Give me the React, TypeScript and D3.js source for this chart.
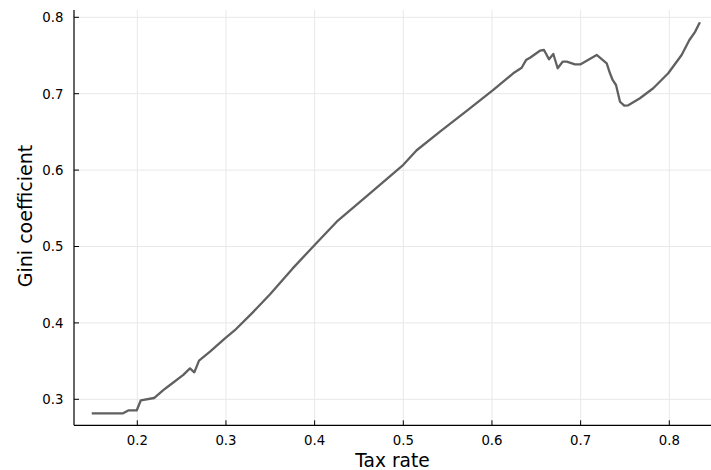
import React from "react";
import * as d3 from "d3";

const taxRate = [
  0.1486, 0.184, 0.1898, 0.1993, 0.204, 0.2189, 0.2293, 0.2369, 0.2519, 0.2594, 0.2643, 0.2696,
  0.282, 0.2989, 0.31, 0.33, 0.35, 0.375, 0.4, 0.4249, 0.4624, 0.5, 0.5151, 0.5414, 0.5715, 0.6015,
  0.624, 0.6335, 0.6384, 0.6429, 0.6541, 0.6587, 0.6643, 0.6692, 0.6741, 0.6797, 0.6843, 0.6936,
  0.7, 0.7181, 0.7294, 0.7331, 0.7361, 0.7399, 0.7444, 0.7492, 0.7537, 0.7669, 0.7819, 0.7988,
  0.8139, 0.8225, 0.8289, 0.8345,
];
const gini = [
  0.2817, 0.2817, 0.2854, 0.2854, 0.2987, 0.3017, 0.312, 0.3187, 0.332, 0.3405, 0.3353, 0.3506,
  0.3623, 0.3798, 0.3904, 0.4135, 0.4378, 0.471, 0.502, 0.5325, 0.5696, 0.607, 0.626, 0.6503, 0.6775, 0.7049,
  0.7267, 0.734, 0.744, 0.7471, 0.7563, 0.7572, 0.745, 0.752, 0.7333, 0.7419, 0.742, 0.7385,
  0.7385, 0.7507, 0.7398, 0.7267, 0.718, 0.7114, 0.6895, 0.6843, 0.6848, 0.694, 0.7071, 0.7267,
  0.7507, 0.77, 0.7806, 0.7935,
];
const xTicks = [0.2, 0.3, 0.4, 0.5, 0.6, 0.7, 0.8];
const yTicks = [0.3, 0.4, 0.5, 0.6, 0.7, 0.8];

const W = 711;
const H = 470;
const left = 74;
const right = 711;
const top = 10;
const bottom = 425.3;

export default function App() {
  const x = d3.scaleLinear().domain([0.2, 0.8]).range([137.3, 669.3]);
  const y = d3.scaleLinear().domain([0.3, 0.8]).range([399.3, 17.3]);
  const pts = taxRate.map((t, i) => [t, gini[i]] as [number, number]);
  const line = d3
    .line<[number, number]>()
    .x((d) => x(d[0]))
    .y((d) => y(d[1]));
  const font = "'DejaVu Sans', sans-serif";
  return (
    <svg
      width={W}
      height={H}
      style={{ position: "absolute", left: 0, top: 0, background: "#fff" }}
    >
      <rect x={0} y={0} width={W} height={H} fill="#fff" />
      {xTicks.map((t) => (
        <line key={"gx" + t} x1={x(t)} x2={x(t)} y1={top} y2={bottom} stroke="#e8e8e8" strokeWidth={1} />
      ))}
      {yTicks.map((t) => (
        <line key={"gy" + t} x1={left} x2={right} y1={y(t)} y2={y(t)} stroke="#e8e8e8" strokeWidth={1} />
      ))}
      <path d={line(pts) || ""} fill="none" stroke="#606060" strokeWidth={2.3} strokeLinejoin="round" />
      <line x1={left} x2={left} y1={top} y2={bottom} stroke="#000" strokeWidth={1.2} />
      <line x1={left} x2={right} y1={bottom} y2={bottom} stroke="#000" strokeWidth={1.2} />
      {xTicks.map((t) => (
        <g key={"tx" + t}>
          <line x1={x(t)} x2={x(t)} y1={bottom} y2={bottom - 5} stroke="#000" strokeWidth={1} />
          <text x={x(t)} y={445} textAnchor="middle" fontFamily={font} fontSize={13.3} fill="#000">
            {t.toFixed(1)}
          </text>
        </g>
      ))}
      {yTicks.map((t) => (
        <g key={"ty" + t}>
          <line x1={left} x2={left + 5} y1={y(t)} y2={y(t)} stroke="#000" strokeWidth={1} />
          <text x={63.5} y={y(t) + 4.8} textAnchor="end" fontFamily={font} fontSize={13.3} fill="#000">
            {t.toFixed(1)}
          </text>
        </g>
      ))}
      <text x={(left + right) / 2} y={467} textAnchor="middle" fontFamily={font} fontSize={18.6} fill="#000">
        Tax rate
      </text>
      <text
        transform={`translate(31.5,216) rotate(-90)`}
        textAnchor="middle"
        fontFamily={font}
        fontSize={19}
        fill="#000"
      >
        Gini coefficient
      </text>
    </svg>
  );
}
